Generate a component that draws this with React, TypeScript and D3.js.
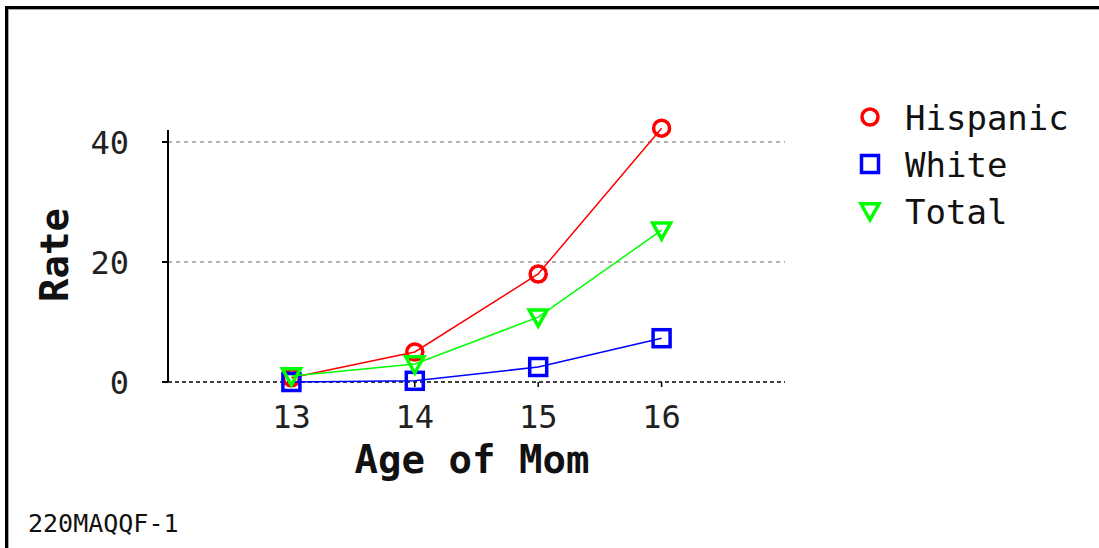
import React from "react";
import * as d3 from "d3";

const ages = [13, 14, 15, 16];
const hispanic = [0.7, 5.0, 18.0, 42.3];
const white = [0.0, 0.2, 2.5, 7.3];
const total = [1.0, 3.0, 10.8, 25.3];
const yTicks = [0, 20, 40];
const seriesNames = ["Hispanic", "White", "Total"];
const footnote = "220MAQQF-1";

const W = 1099;
const H = 548;
const mono = "'DejaVu Sans Mono', monospace";

function Marker({ kind, x, y, color }: { kind: string; x: number; y: number; color: string }) {
  if (kind === "circle") return <circle cx={x} cy={y} r={8} fill="none" stroke={color} strokeWidth={3.5} />;
  if (kind === "square") return <rect x={x - 8.5} y={y - 8.5} width={17} height={17} fill="none" stroke={color} strokeWidth={3.5} />;
  const s = 9;
  return (
    <path
      d={`M${x - s},${y - s * 0.8} L${x + s},${y - s * 0.8} L${x},${y + s * 1.0} Z`}
      fill="none"
      stroke={color}
      strokeWidth={3.5}
      strokeLinejoin="miter"
    />
  );
}

export default function App() {
  const x = d3.scaleLinear().domain([12, 17]).range([168, 785]);
  const y = d3.scaleLinear().domain([0, 42]).range([382, 130]);
  const line = d3
    .line<number>()
    .x((_, i) => x(ages[i]))
    .y((d) => y(d));

  const series = [
    { name: seriesNames[0], values: hispanic, color: "#ff0000", kind: "circle" },
    { name: seriesNames[1], values: white, color: "#0000ff", kind: "square" },
    { name: seriesNames[2], values: total, color: "#00ff00", kind: "triangle" },
  ];

  return (
    <svg width={W} height={H} style={{ position: "absolute", left: 0, top: 0, background: "#fff" }}>
      <rect x={0} y={0} width={W} height={H} fill="#fff" />
      {/* frame */}
      <line x1={5} y1={7.5} x2={W} y2={7.5} stroke="#000" strokeWidth={3} />
      <line x1={6.5} y1={6} x2={6.5} y2={H} stroke="#000" strokeWidth={3} />
      <line x1={8} y1={9.5} x2={W} y2={9.5} stroke="#aaa" strokeWidth={1} />
      <line x1={8.5} y1={9} x2={8.5} y2={H} stroke="#aaa" strokeWidth={1} />

      {/* grid */}
      {yTicks.filter((t) => t !== 0).map((t) => (
        <line key={t} x1={x(12)} x2={x(17)} y1={y(t)} y2={y(t)} stroke="#999" strokeWidth={1.5} strokeDasharray="4,4" />
      ))}
      <line x1={x(12)} x2={x(17)} y1={y(0)} y2={y(0)} stroke="#000" strokeWidth={1.5} strokeDasharray="4,3" />

      {/* y axis */}
      <line x1={x(12)} x2={x(12)} y1={130} y2={y(0)} stroke="#000" strokeWidth={2} />
      {yTicks.map((t) => (
        <g key={t}>
          <line x1={x(12) - 6} x2={x(12)} y1={y(t)} y2={y(t)} stroke="#000" strokeWidth={2} />
          <text x={129} y={y(t)} dy="0.36em" textAnchor="end" fontFamily={mono} fontSize={32} fill="#222">
            {t}
          </text>
        </g>
      ))}
      <text
        transform={`translate(68,255) rotate(-90)`}
        textAnchor="middle"
        fontFamily={mono}
        fontWeight="bold"
        fontSize={39}
        fill="#111"
      >
        Rate
      </text>

      {/* x axis ticks */}
      {ages.map((a) => (
        <g key={a}>
          <line x1={x(a)} x2={x(a)} y1={y(0)} y2={y(0) + 5} stroke="#000" strokeWidth={1.5} />
          <text x={x(a)} y={428} textAnchor="middle" fontFamily={mono} fontSize={32} fill="#222">
            {a}
          </text>
        </g>
      ))}
      <text x={472} y={473} textAnchor="middle" fontFamily={mono} fontWeight="bold" fontSize={39} fill="#111">
        Age of Mom
      </text>

      {/* series */}
      {series.map((s) => (
        <g key={s.name}>
          <path d={line(s.values) || ""} fill="none" stroke={s.color} strokeWidth={1.5} />
          {s.values.map((v, i) => (
            <Marker key={i} kind={s.kind} x={x(ages[i])} y={y(v)} color={s.color} />
          ))}
        </g>
      ))}

      {/* legend */}
      {series.map((s, i) => (
        <g key={s.name}>
          <Marker kind={s.kind} x={870} y={117 + i * 47} color={s.color} />
          <text x={905} y={118 + i * 47} dy="0.36em" fontFamily={mono} fontSize={34} fill="#111">
            {s.name}
          </text>
        </g>
      ))}

      <text x={28} y={532} fontFamily={mono} fontSize={25} fill="#111">
        {footnote}
      </text>
    </svg>
  );
}
